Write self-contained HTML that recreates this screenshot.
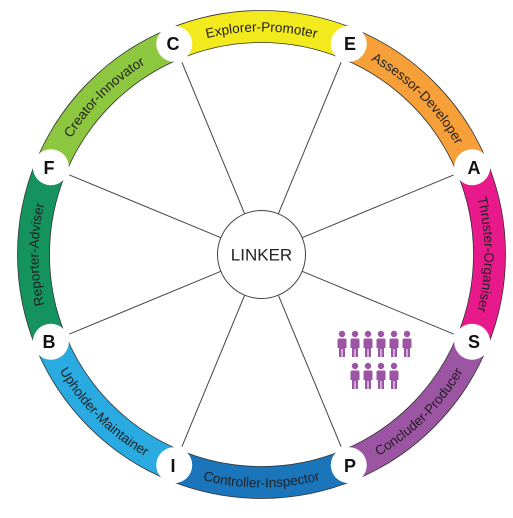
<!DOCTYPE html>
<html><head><meta charset="utf-8"><style>html,body{margin:0;padding:0;background:#fff}svg{display:block}</style></head>
<body>
<svg width="513" height="518" viewBox="0 0 513 518" xmlns="http://www.w3.org/2000/svg" font-family="Liberation Sans, sans-serif">
<defs>
<path id="t1" d="M176.16,48.47 A223 223 0 0 1 346.84,48.47"/>
<path id="t2" d="M346.84,48.47 A223 223 0 0 1 467.53,169.16"/>
<path id="t3" d="M467.53,169.16 A223 223 0 0 1 467.53,339.84"/>
<path id="t7" d="M55.47,339.84 A223 223 0 0 1 55.47,169.16"/>
<path id="t8" d="M55.47,169.16 A223 223 0 0 1 176.16,48.47"/>
<path id="t4" d="M350.66,469.76 A233 233 0 0 0 476.76,343.66"/>
<path id="t5" d="M172.34,469.76 A233 233 0 0 0 350.66,469.76"/>
<path id="t6" d="M46.24,343.66 A233 233 0 0 0 172.34,469.76"/>
</defs>
<g stroke="#333" stroke-width="0.8">
<path fill="#f2ea1c" d="M168.12,29.07 A244 244 0 0 1 354.88,29.07 L342.63,58.64 A212 212 0 0 0 180.37,58.64Z"/>
<path fill="#f7a03a" d="M354.88,29.07 A244 244 0 0 1 486.93,161.12 L457.36,173.37 A212 212 0 0 0 342.63,58.64Z"/>
<path fill="#e8198b" d="M486.93,161.12 A244 244 0 0 1 486.93,347.88 L457.36,335.63 A212 212 0 0 0 457.36,173.37Z"/>
<path fill="#9b55a3" d="M486.93,347.88 A244 244 0 0 1 354.88,479.93 L342.63,450.36 A212 212 0 0 0 457.36,335.63Z"/>
<path fill="#1b75bb" d="M354.88,479.93 A244 244 0 0 1 168.12,479.93 L180.37,450.36 A212 212 0 0 0 342.63,450.36Z"/>
<path fill="#29abe2" d="M168.12,479.93 A244 244 0 0 1 36.07,347.88 L65.64,335.63 A212 212 0 0 0 180.37,450.36Z"/>
<path fill="#14935f" d="M36.07,347.88 A244 244 0 0 1 36.07,161.12 L65.64,173.37 A212 212 0 0 0 65.64,335.63Z"/>
<path fill="#8dc63f" d="M36.07,161.12 A244 244 0 0 1 168.12,29.07 L180.37,58.64 A212 212 0 0 0 65.64,173.37Z"/>
</g>
<g stroke="#444" stroke-width="1">
<line x1="244.66" y1="213.85" x2="181.9" y2="62.33"/>
<line x1="278.34" y1="213.85" x2="341.1" y2="62.33"/>
<line x1="302.15" y1="237.66" x2="453.67" y2="174.9"/>
<line x1="302.15" y1="271.34" x2="453.67" y2="334.1"/>
<line x1="278.34" y1="295.15" x2="341.1" y2="446.67"/>
<line x1="244.66" y1="295.15" x2="181.9" y2="446.67"/>
<line x1="220.85" y1="271.34" x2="69.33" y2="334.1"/>
<line x1="220.85" y1="237.66" x2="69.33" y2="174.9"/>
</g>
<circle cx="261.5" cy="254.5" r="44" fill="#fff" stroke="#444" stroke-width="1"/>
<text x="261.5" y="260.5" text-anchor="middle" font-size="17" fill="#222">LINKER</text>
<g fill="#fff">
<circle cx="174.25" cy="43.86" r="18"/><circle cx="348.75" cy="43.86" r="18"/>
<circle cx="472.14" cy="167.25" r="18"/><circle cx="472.14" cy="341.75" r="18"/>
<circle cx="348.75" cy="465.14" r="18"/><circle cx="174.25" cy="465.14" r="18"/>
<circle cx="50.86" cy="341.75" r="18"/><circle cx="50.86" cy="167.25" r="18"/>
</g>
<g font-size="18" font-weight="bold" text-anchor="middle" fill="#111">
<text x="173" y="50">C</text><text x="350" y="50">E</text>
<text x="474" y="174">A</text><text x="474" y="348">S</text>
<text x="350" y="472">P</text><text x="173" y="472">I</text>
<text x="49" y="348">B</text><text x="49" y="174">F</text>
</g>
<g font-size="13.5" fill="#222" text-anchor="middle">
<text><textPath href="#t1" startOffset="50%">Explorer-Promoter</textPath></text>
<text><textPath href="#t2" startOffset="50%">Assessor-Developer</textPath></text>
<text><textPath href="#t3" startOffset="50%">Thruster-Organiser</textPath></text>
<text><textPath href="#t4" startOffset="50%">Concluder-Producer</textPath></text>
<text><textPath href="#t5" startOffset="50%">Controller-Inspector</textPath></text>
<text><textPath href="#t6" startOffset="50%">Upholder-Maintainer</textPath></text>
<text><textPath href="#t7" startOffset="50%">Reporter-Adviser</textPath></text>
<text><textPath href="#t8" startOffset="50%">Creator-Innovator</textPath></text>
</g>
<defs>
<g id="pp" fill="#9b55a3">
<circle cx="0" cy="0" r="3.2"/>
<path d="M-4.5,6 Q-4.5,4.5 -3,4.5 L3,4.5 Q4.5,4.5 4.5,6 L4.5,14 L3,14 L3,23 L0.5,23 L0.5,15 L-0.5,15 L-0.5,23 L-3,23 L-3,14 L-4.5,14Z"/>
</g>
</defs>
<use href="#pp" x="342" y="334"/><use href="#pp" x="355" y="334"/><use href="#pp" x="368" y="334"/>
<use href="#pp" x="381" y="334"/><use href="#pp" x="394" y="334"/><use href="#pp" x="407" y="334"/>
<use href="#pp" x="355" y="366"/><use href="#pp" x="368" y="366"/><use href="#pp" x="381" y="366"/><use href="#pp" x="394" y="366"/>
</svg>
</body></html>
